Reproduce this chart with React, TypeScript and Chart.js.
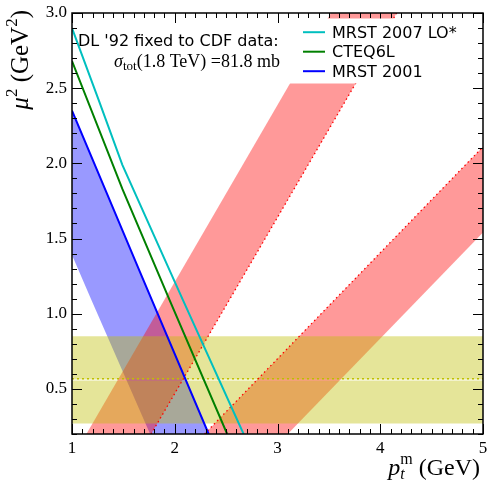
import React, { useEffect, useRef } from "react";
import { Chart, registerables } from "chart.js";

Chart.register(...registerables);

// ---- axis ticks ----
const xTicks = [1, 2, 3, 4, 5];
const yTicks = [0.5, 1.0, 1.5, 2.0, 2.5, 3.0];
const xRange = [1, 5];
const yRange = [0.2, 3.0];

// ---- PDF curves ----
const cyanX = [1, 1.26, 1.49, 2.08, 2.67];
const cyanY = [2.9, 2.42, 1.99, 1.09, 0.2];
const greenX = [1, 1.49, 1.95, 2.51];
const greenY = [2.68, 1.83, 1.09, 0.2];
const blueX = [1, 1.66, 2.33];
const blueY = [2.35, 1.28, 0.2];

// ---- bands (polygon outlines) ----
const blueBandX = [1, 1, 1.19, 1.76, 2.33];
const blueBandY = [2.35, 1.39, 1.09, 0.2, 0.2];
const red1X = [1.14, 1.77, 4.16, 3.52];
const red1Y = [0.2, 0.2, 3.0, 3.0];
const red2X = [2.29, 3.1, 5, 5];
const red2Y = [0.2, 0.2, 1.54, 2.11];
const yellowX = [1, 5, 5, 1];
const yellowLowY = [0.27, 0.27, 0.556, 0.556];
const yellowHighY = [0.563, 0.563, 0.85, 0.85];

// ---- dotted edges ----
const edge1X = [1.77, 4.16];
const edge1Y = [0.2, 3.0];
const edge2X = [2.29, 5];
const edge2Y = [0.2, 2.11];
const centralX = [1, 5];
const centralY = [0.568, 0.568];

const labels = ["MRST 2007 LO*", "CTEQ6L", "MRST 2001"];

const pts = (xs: number[], ys: number[]) => xs.map((x, i) => ({ x, y: ys[i] }));

const SERIF = "'Liberation Serif', serif";
const SANS = "'DejaVu Sans', sans-serif";

type Run = { text: string; font: string; dy?: number; stack?: boolean };

function layoutRuns(ctx: CanvasRenderingContext2D, runs: Run[]) {
  let x = 0;
  let prevX = 0;
  let prevW = 0;
  const items: (Run & { x: number })[] = [];
  for (const r of runs) {
    ctx.font = r.font;
    const w = ctx.measureText(r.text).width;
    if (r.stack) {
      items.push({ ...r, x: prevX });
      const extra = Math.max(0, w - prevW);
      x += extra;
      prevW = Math.max(prevW, w);
    } else {
      items.push({ ...r, x });
      prevX = x;
      prevW = w;
      x += w;
    }
  }
  return { items, width: x };
}

function drawRuns(ctx: CanvasRenderingContext2D, runs: Run[], x: number, y: number, align: "left" | "right") {
  const { items, width } = layoutRuns(ctx, runs);
  const x0 = align === "right" ? x - width : x;
  ctx.textAlign = "left";
  ctx.textBaseline = "alphabetic";
  for (const it of items) {
    ctx.font = it.font;
    ctx.fillText(it.text, x0 + it.x, y + (it.dy || 0));
  }
}

const decor = {
  id: "decor",
  afterDraw(chart: any) {
    const ctx: CanvasRenderingContext2D = chart.ctx;
    const { left, right, top, bottom } = chart.chartArea;
    const xs = chart.scales.x;
    const ys = chart.scales.y;
    ctx.save();
    ctx.strokeStyle = "#000";
    ctx.lineWidth = 1;
    ctx.beginPath();
    for (let i = Math.round(xRange[0] * 10); i <= Math.round(xRange[1] * 10); i++) {
      const v = i / 10;
      const len = xTicks.some((t) => Math.abs(t - v) < 1e-6) ? 10 : 5;
      const px = Math.round(xs.getPixelForValue(v)) + 0.5;
      ctx.moveTo(px, bottom);
      ctx.lineTo(px, bottom - len);
      ctx.moveTo(px, top);
      ctx.lineTo(px, top + len);
    }
    for (let i = Math.round(yRange[0] * 10); i <= Math.round(yRange[1] * 10); i++) {
      const v = i / 10;
      const len = yTicks.some((t) => Math.abs(t - v) < 1e-6) ? 10 : 5;
      const py = Math.round(ys.getPixelForValue(v)) + 0.5;
      ctx.moveTo(left, py);
      ctx.lineTo(left + len, py);
      ctx.moveTo(right, py);
      ctx.lineTo(right - len, py);
    }
    ctx.stroke();

    // legend box (white), covers band and top ticks
    ctx.fillStyle = "#fff";
    ctx.fillRect(286, 18.5, 190, 65);

    // frame
    ctx.lineWidth = 1.5;
    ctx.strokeRect(left, top, right - left, bottom - top);

    // legend entries
    const ds = chart.data.datasets;
    ctx.font = `16px ${SANS}`;
    ctx.textAlign = "left";
    ctx.textBaseline = "alphabetic";
    for (let i = 0; i < 3; i++) {
      const base = 37.7 + i * 19.5;
      ctx.strokeStyle = ds[i].borderColor;
      ctx.lineWidth = 2;
      ctx.beginPath();
      ctx.moveTo(303, base - 5.5);
      ctx.lineTo(325, base - 5.5);
      ctx.stroke();
      ctx.fillStyle = "#000";
      ctx.fillText(ds[i].label, 332, base);
    }

    // annotation
    ctx.fillStyle = "#000";
    ctx.font = `16px ${SANS}`;
    ctx.fillText("DL '92 fixed to CDF data:", 78, 46);
    drawRuns(
      ctx,
      [
        { text: "σ", font: `italic 18px ${SERIF}` },
        { text: "tot", font: `13px ${SERIF}`, dy: 3 },
        { text: "(1.8 TeV) =81.8 mb", font: `18px ${SERIF}` },
      ],
      280,
      66.7,
      "right"
    );

    // x title
    drawRuns(
      ctx,
      [
        { text: "p", font: `italic 24px ${SERIF}` },
        { text: "t", font: `italic 16px ${SERIF}`, dy: 4 },
        { text: "m", font: `16px ${SERIF}`, dy: -11, stack: true },
        { text: " (GeV)", font: `24px ${SERIF}` },
      ],
      480,
      475,
      "right"
    );

    // y title (rotated)
    ctx.save();
    ctx.translate(28, 10);
    ctx.rotate(-Math.PI / 2);
    drawRuns(
      ctx,
      [
        { text: "μ", font: `italic 25px ${SERIF}` },
        { text: "2", font: `17px ${SERIF}`, dy: -11 },
        { text: " (GeV", font: `25px ${SERIF}` },
        { text: "2", font: `17px ${SERIF}`, dy: -11 },
        { text: ")", font: `25px ${SERIF}` },
      ],
      0,
      0,
      "right"
    );
    ctx.restore();
    ctx.restore();
  },
};

const lineDs = (label: string, xs: number[], ys: number[], color: string) => ({
  label,
  data: pts(xs, ys),
  borderColor: color,
  borderWidth: 2,
  fill: false,
  pointRadius: 0,
  order: 0,
});

const bandDs = (label: string, xs: number[], ys: number[], color: string, order: number) => ({
  label,
  data: pts(xs, ys),
  borderColor: "rgba(0,0,0,0)",
  borderWidth: 0,
  backgroundColor: color,
  fill: "shape",
  pointRadius: 0,
  order,
});

const dottedDs = (label: string, xs: number[], ys: number[], color: string, dash: number[], w: number) => ({
  label,
  data: pts(xs, ys),
  borderColor: color,
  borderWidth: w,
  borderDash: dash,
  fill: false,
  pointRadius: 0,
  order: 1,
});

export default function App() {
  const ref = useRef<HTMLCanvasElement>(null);
  useEffect(() => {
    const chart = new Chart(ref.current as HTMLCanvasElement, {
      type: "line",
      data: {
        datasets: [
          lineDs(labels[0], cyanX, cyanY, "rgb(0,191,191)"),
          lineDs(labels[1], greenX, greenY, "rgb(0,128,0)"),
          lineDs(labels[2], blueX, blueY, "rgb(0,0,255)"),
          dottedDs("edge1", edge1X, edge1Y, "rgb(255,0,0)", [1.5, 3], 1.3),
          dottedDs("edge2", edge2X, edge2Y, "rgb(255,0,0)", [1.5, 3], 1.3),
          dottedDs("central", centralX, centralY, "rgb(191,191,0)", [2, 3], 1.5),
          bandDs("yellowLow", yellowX, yellowLowY, "rgba(191,191,0,0.4)", 2),
          bandDs("yellowHigh", yellowX, yellowHighY, "rgba(191,191,0,0.4)", 2),
          bandDs("red1", red1X, red1Y, "rgba(255,0,0,0.4)", 3),
          bandDs("red2", red2X, red2Y, "rgba(255,0,0,0.4)", 3),
          bandDs("blueBand", blueBandX, blueBandY, "rgba(0,0,255,0.4)", 4),
        ] as any,
      },
      options: {
        animation: false,
        responsive: true,
        maintainAspectRatio: false,
        devicePixelRatio: 1,
        events: [],
        layout: { padding: { left: 0, right: 4, top: 13, bottom: 0 } },
        plugins: { legend: { display: false }, tooltip: { enabled: false } },
        scales: {
          x: {
            type: "linear",
            min: xRange[0],
            max: xRange[1],
            grid: { display: false, drawTicks: false },
            border: { display: false },
            afterBuildTicks: (s: any) => {
              s.ticks = xTicks.map((v) => ({ value: v }));
            },
            afterFit: (s: any) => {
              s.height = 48;
              s.paddingLeft = 0;
              s.paddingRight = 0;
            },
            ticks: {
              color: "#000",
              padding: 4,
              maxRotation: 0,
              font: { family: "Liberation Serif", size: 17 },
              callback: (v: any) => String(v),
            },
          },
          y: {
            type: "linear",
            min: yRange[0],
            max: yRange[1],
            grid: { display: false, drawTicks: false },
            border: { display: false },
            afterBuildTicks: (s: any) => {
              s.ticks = yTicks.map((v) => ({ value: v }));
            },
            afterFit: (s: any) => {
              s.width = 72;
              s.paddingTop = 0;
              s.paddingBottom = 0;
            },
            ticks: {
              color: "#000",
              padding: 5,
              font: { family: "Liberation Serif", size: 17 },
              callback: (v: any) => Number(v).toFixed(1),
            },
          },
        },
      },
      plugins: [decor],
    } as any);
    return () => chart.destroy();
  }, []);
  return (
    <div style={{ position: "absolute", left: 0, top: 0, width: 487, height: 482 }}>
      <canvas ref={ref} />
    </div>
  );
}
